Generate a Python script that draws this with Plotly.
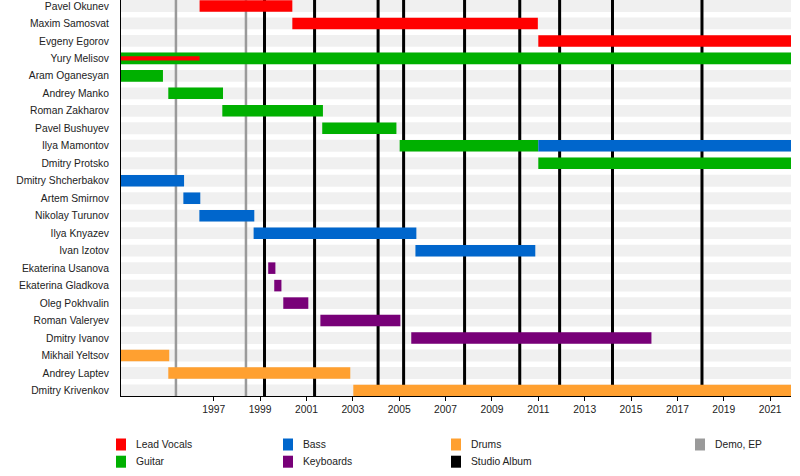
import plotly.graph_objects as go

# band members, top to bottom
members = ['Pavel Okunev', 'Maxim Samosvat', 'Evgeny Egorov', 'Yury Melisov',
           'Aram Oganesyan', 'Andrey Manko', 'Roman Zakharov', 'Pavel Bushuyev',
           'Ilya Mamontov', 'Dmitry Protsko', 'Dmitry Shcherbakov', 'Artem Smirnov',
           'Nikolay Turunov', 'Ilya Knyazev', 'Ivan Izotov', 'Ekaterina Usanova',
           'Ekaterina Gladkova', 'Oleg Pokhvalin', 'Roman Valeryev', 'Dmitry Ivanov',
           'Mikhail Yeltsov', 'Andrey Laptev', 'Dmitry Krivenkov']

start_year = 1993
end_year = 2021.9

# (member, from, to) in decimal years
vocals = [('Pavel Okunev', 1996.39, 2000.39),
          ('Maxim Samosvat', 2000.39, 2010.98),
          ('Evgeny Egorov', 2011.0, 2021.9)]
vocals_thin = [('Yury Melisov', 1993.0, 1996.39)]
guitar = [('Yury Melisov', 1993.0, 2021.9),
          ('Aram Oganesyan', 1993.0, 1994.81),
          ('Andrey Manko', 1995.04, 1997.4),
          ('Roman Zakharov', 1997.37, 2001.71),
          ('Pavel Bushuyev', 2001.68, 2004.88),
          ('Ilya Mamontov', 2005.02, 2011.0),
          ('Dmitry Protsko', 2011.0, 2021.9)]
bass = [('Ilya Mamontov', 2011.0, 2021.9),
        ('Dmitry Shcherbakov', 1993.0, 1995.72),
        ('Artem Smirnov', 1995.69, 1996.42),
        ('Nikolay Turunov', 1996.38, 1998.75),
        ('Ilya Knyazev', 1998.72, 2005.74),
        ('Ivan Izotov', 2005.70, 2010.87)]
keyboards = [('Ekaterina Usanova', 1999.35, 1999.66),
             ('Ekaterina Gladkova', 1999.61, 1999.92),
             ('Oleg Pokhvalin', 2000.0, 2001.08),
             ('Roman Valeryev', 2001.6, 2005.05),
             ('Dmitry Ivanov', 2005.52, 2015.88)]
drums = [('Mikhail Yeltsov', 1993.0, 1995.08),
         ('Andrey Laptev', 1995.04, 2002.89),
         ('Dmitry Krivenkov', 2003.02, 2021.9)]

demo_ep = [1995.37, 1998.39]
studio_albums = [1999.19, 2001.35, 2004.09, 2005.19, 2007.82, 2010.2, 2011.92, 2014.2, 2018.06]

tick_years = list(range(1997, 2022, 2))

legend_labels = ['Lead Vocals', 'Guitar', 'Bass', 'Keyboards', 'Drums', 'Studio Album', 'Demo, EP']
legend_colors = ['#ff0000', '#00b000', '#0066cc', '#780078', '#ffa030', '#000000', '#9a9a9a']

RED, GREEN, BLUE, PURPLE, ORANGE = legend_colors[:5]
n = len(members)
row = {m: n - 1 - i for i, m in enumerate(members)}
y_lo, y_hi = -0.315, n - 1 + 0.34


def add_bars(fig, spans, color, width=0.66):
    fig.add_trace(go.Bar(
        orientation='h',
        y=[row[m] for m, a, b in spans],
        x=[b - a for m, a, b in spans],
        base=[a for m, a, b in spans],
        width=width,
        marker=dict(color=color, line=dict(width=0)),
        showlegend=False, hoverinfo='skip'))


fig = go.Figure()
add_bars(fig, guitar, GREEN)
add_bars(fig, vocals, RED)
add_bars(fig, vocals_thin, RED, width=0.23)
add_bars(fig, bass, BLUE)
add_bars(fig, keyboards, PURPLE)
add_bars(fig, drums, ORANGE)

shapes = []
# background stripes
for i in range(n):
    shapes.append(dict(type='rect', xref='x', yref='y', x0=start_year, x1=end_year,
                       y0=i - 0.34, y1=i + 0.34, fillcolor='#f0f0f0',
                       line=dict(width=0), layer='below'))
# release lines (same layer as stripes, drawn after them)
for d in demo_ep:
    shapes.append(dict(type='line', xref='x', yref='y', x0=d, x1=d, y0=y_lo, y1=y_hi,
                       line=dict(color='#9a9a9a', width=2.5), layer='below'))
for d in studio_albums:
    shapes.append(dict(type='line', xref='x', yref='y', x0=d, x1=d, y0=y_lo, y1=y_hi,
                       line=dict(color='black', width=3), layer='below'))

# legend drawn manually (column-wise grid)
W, H, L, B = 800, 476, 121, 80
pw, ph = W - L - 9, H - B
col_x = [116, 283, 451, 695]
row_y = [444.5, 461.7]
annotations = []
for k, (lab, col) in enumerate(zip(legend_labels, legend_colors)):
    cx = col_x[k // 2]
    cy = row_y[k % 2]
    shapes.append(dict(type='rect', xref='paper', yref='paper',
                       x0=(cx - L) / pw, x1=(cx + 10 - L) / pw,
                       y0=(ph - (cy + 6)) / ph, y1=(ph - (cy - 6)) / ph,
                       fillcolor=col, line=dict(width=0)))
    annotations.append(dict(xref='paper', yref='paper', x=(cx + 18 - L) / pw,
                            y=(ph - cy) / ph, text=lab, showarrow=False,
                            xanchor='left', yanchor='middle',
                            font=dict(size=10.3, color='#222222')))

fig.update_layout(
    width=W, height=H,
    margin=dict(l=L, r=9, t=0, b=B),
    paper_bgcolor='white', plot_bgcolor='white',
    barmode='overlay',
    font=dict(family='Liberation Sans, Arial, sans-serif', size=10.3, color='#222222'),
    shapes=shapes, annotations=annotations,
    xaxis=dict(range=[start_year, end_year], tickvals=tick_years,
               ticktext=[str(y) for y in tick_years], automargin=False,
               ticklabeloverflow='allow',
               showgrid=False, zeroline=False, showline=True, linecolor='black',
               linewidth=1, ticks='outside', ticklen=4, tickcolor='black'),
    yaxis=dict(range=[y_lo, y_hi], tickvals=list(range(n)),
               ticktext=[m for m in reversed(members)], automargin=False,
               ticklabeloverflow='allow',
               showgrid=False, zeroline=False, showline=True, linecolor='black',
               linewidth=1, ticks='', ticklabelstandoff=9),
)

fig.write_html('out.html', config={'displayModeBar': False},
               post_script="document.body.style.margin='0';")
